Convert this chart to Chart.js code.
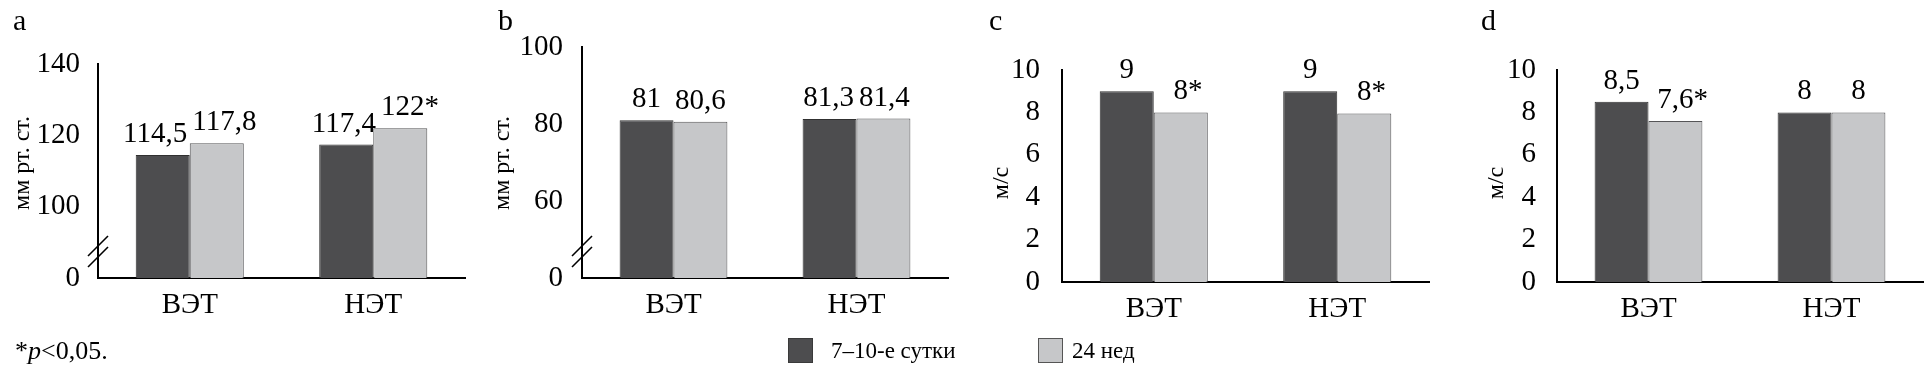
<!DOCTYPE html>
<html>
<head>
<meta charset="utf-8">
<script src="https://cdn.jsdelivr.net/npm/chart.js@4/dist/chart.umd.min.js"></script>
<style>
  html,body{margin:0;padding:0;background:#fff;}
  body{position:relative;width:1932px;height:380px;overflow:hidden;font-family:"Liberation Serif","Times New Roman",serif;color:#000;}
  canvas{position:absolute;top:0;}
  .txt{position:absolute;white-space:nowrap;line-height:1;}
  .panel{font-size:30px;}
  .note{font-size:26px;}
  .leg{font-size:23px;}
  .box{position:absolute;width:25px;height:25px;box-sizing:border-box;border:1px solid #333;}
</style>
</head>
<body>
<script>
// ---------- data ----------
const categories = ['ВЭТ', 'НЭТ'];
const seriesNames = ['7–10-е сутки', '24 нед'];
const panelLetters = ['a', 'b', 'c', 'd'];
const yTitles = ['мм рт. ст.', 'мм рт. ст.', 'м/с', 'м/с'];

const sbpEarly = [114.5, 117.4];
const sbpLate = [117.8, 122];
const sbpEarlyLabels = ['114,5', '117,4'];
const sbpLateLabels = ['117,8', '122*'];

const dbpEarly = [81, 81.3];
const dbpLate = [80.6, 81.4];
const dbpEarlyLabels = ['81', '81,3'];
const dbpLateLabels = ['80,6', '81,4'];

const pwvCEarly = [9, 9];
const pwvCLate = [8, 7.95];
const pwvCEarlyLabels = ['9', '9'];
const pwvCLateLabels = ['8*', '8*'];

const pwvDEarly = [8.5, 8];
const pwvDLate = [7.6, 8];
const pwvDEarlyLabels = ['8,5', '8'];
const pwvDLateLabels = ['7,6*', '8'];

const ticksA = [80, 100, 120, 140];
const tickLabelsA = ['0', '100', '120', '140'];
const ticksB = [40, 60, 80, 100];
const tickLabelsB = ['0', '60', '80', '100'];
const ticksCD = [0, 2, 4, 6, 8, 10];
const tickLabelsCD = ['0', '2', '4', '6', '8', '10'];

const footnote = '*<i>p</i>&lt;0,05.';

// ---------- styles ----------
const FONT = '"Liberation Serif", "Times New Roman", serif';
const FS = 29;
const barColors = ['#4d4d4f', '#c6c7c9'];
const barBorders = ['#303030', '#555557'];

const panels = [
  {left: 0,    w: 480, plotLeft: 98,   plotRight: 465,  plotTop: 64, plotBottom: 278, titleX: 23, titleY: 163, tickPad: 10,
   early: sbpEarly, late: sbpLate, earlyL: sbpEarlyLabels, lateL: sbpLateLabels, ticks: ticksA, tickL: tickLabelsA, brk: true},
  {left: 480,  w: 480, plotLeft: 582,  plotRight: 948,  plotTop: 47, plotBottom: 278, titleX: 23, titleY: 163, tickPad: 11,
   early: dbpEarly, late: dbpLate, earlyL: dbpEarlyLabels, lateL: dbpLateLabels, ticks: ticksB, tickL: tickLabelsB, brk: true},
  {left: 960,  w: 480, plotLeft: 1062, plotRight: 1429, plotTop: 70, plotBottom: 282, titleX: 42, titleY: 183, tickPad: 14,
   early: pwvCEarly, late: pwvCLate, earlyL: pwvCEarlyLabels, lateL: pwvCLateLabels, ticks: ticksCD, tickL: tickLabelsCD, brk: false},
  {left: 1440, w: 492, plotLeft: 1557, plotRight: 1923, plotTop: 70, plotBottom: 282, titleX: 57, titleY: 183, tickPad: 13,
   early: pwvDEarly, late: pwvDLate, earlyL: pwvDEarlyLabels, lateL: pwvDLateLabels, ticks: ticksCD, tickL: tickLabelsCD, brk: false}
];
const letterX = [13, 498, 989, 1481];

function valueLabelPlugin(labelSets) {
  return {
    id: 'valueLabels',
    afterDatasetsDraw(chart) {
      const ctx = chart.ctx;
      ctx.save();
      ctx.font = FS + 'px ' + FONT;
      ctx.fillStyle = '#000';
      ctx.textBaseline = 'alphabetic';
      ctx.textAlign = 'left';
      const n = chart.data.labels.length;
      for (let i = 0; i < n; i++) {
        const items = labelSets.map((set, d) => {
          const bar = chart.getDatasetMeta(d).data[i];
          const t = set[i];
          const core = t.replace(/\*$/, '');
          const wc = ctx.measureText(core).width;
          const w = ctx.measureText(t).width;
          const x0 = bar.x - wc / 2;
          return {t, x0, x1: x0 + w, y: bar.y - 13};
        });
        const over = items[0].x1 + 5 - items[1].x0;
        if (over > 0) { items[0].x0 -= over / 2; items[1].x0 += over / 2; }
        items.forEach(it => ctx.fillText(it.t, it.x0, it.y));
      }
      ctx.restore();
    }
  };
}

function yTitlePlugin(text, cx, cy) {
  return {
    id: 'yTitle',
    afterDraw(chart) {
      const ctx = chart.ctx;
      ctx.save();
      ctx.font = '24px ' + FONT;
      ctx.fillStyle = '#000';
      ctx.textAlign = 'center';
      ctx.textBaseline = 'middle';
      ctx.translate(cx, cy);
      ctx.rotate(-Math.PI / 2);
      ctx.fillText(text, 0, 0);
      ctx.restore();
    }
  };
}

const breakPlugin = {
  id: 'axisBreak',
  afterDraw(chart) {
    const a = chart.chartArea;
    const ctx = chart.ctx;
    ctx.save();
    ctx.strokeStyle = '#000';
    ctx.lineWidth = 1.6;
    [32, 21].forEach(off => {
      const y = a.bottom - off, x = a.left;
      ctx.beginPath();
      ctx.moveTo(x - 10, y + 10);
      ctx.lineTo(x + 10, y - 10);
      ctx.stroke();
    });
    ctx.restore();
  }
};

panels.forEach((p, idx) => {
  const canvas = document.createElement('canvas');
  canvas.width = p.w; canvas.height = 380;
  canvas.style.left = p.left + 'px';
  canvas.style.width = p.w + 'px';
  canvas.style.height = '380px';
  document.body.appendChild(canvas);
  const plugins = [valueLabelPlugin([p.earlyL, p.lateL]), yTitlePlugin(yTitles[idx], p.titleX, p.titleY)];
  if (p.brk) plugins.push(breakPlugin);
  new Chart(canvas, {
    type: 'bar',
    data: {
      labels: categories,
      datasets: [
        {label: seriesNames[0], data: p.early, backgroundColor: barColors[0], borderColor: barBorders[0], borderWidth: 1},
        {label: seriesNames[1], data: p.late, backgroundColor: barColors[1], borderColor: barBorders[1], borderWidth: 1}
      ]
    },
    options: {
      responsive: false,
      animation: false,
      devicePixelRatio: 1,
      layout: {padding: {left: 0, top: p.plotTop, right: p.left + p.w - p.plotRight, bottom: 0}},
      plugins: {legend: {display: false}, tooltip: {enabled: false}},
      datasets: {bar: {categoryPercentage: 0.589, barPercentage: 1}},
      scales: {
        x: {
          grid: {display: false},
          border: {color: '#000', width: 2},
          ticks: {font: {family: FONT, size: FS}, color: '#000', padding: 2},
          afterFit: s => { s.height = 380 - p.plotBottom; }
        },
        y: {
          min: p.ticks[0],
          max: p.ticks[p.ticks.length - 1],
          afterBuildTicks: s => { s.ticks = p.ticks.map(v => ({value: v})); },
          grid: {display: false},
          border: {color: '#000', width: 2},
          ticks: {
            font: {family: FONT, size: FS}, color: '#000', padding: p.tickPad,
            callback: v => p.tickL[p.ticks.indexOf(v)]
          },
          title: {display: false, text: yTitles[idx]},
          afterFit: s => { s.width = p.plotLeft - p.left; }
        }
      }
    },
    plugins
  });
});

// panel letters
panelLetters.forEach((t, i) => {
  const d = document.createElement('div');
  d.className = 'txt panel';
  d.style.left = letterX[i] + 'px';
  d.style.top = '5px';
  d.textContent = t;
  document.body.appendChild(d);
});

// footnote
const fn = document.createElement('div');
fn.className = 'txt note';
fn.style.left = '15px';
fn.style.top = '338px';
fn.innerHTML = footnote;
document.body.appendChild(fn);

// legend
const legBoxX = [788, 1038];
const legTextX = [831, 1072];
seriesNames.forEach((name, i) => {
  const b = document.createElement('div');
  b.className = 'box';
  b.style.left = legBoxX[i] + 'px';
  b.style.top = '338px';
  b.style.background = barColors[i];
  b.style.borderColor = i === 0 ? '#3a3a3a' : '#555';
  document.body.appendChild(b);
  const t = document.createElement('div');
  t.className = 'txt leg';
  t.style.left = legTextX[i] + 'px';
  t.style.top = '339px';
  t.textContent = name;
  document.body.appendChild(t);
});
</script>
</body>
</html>
